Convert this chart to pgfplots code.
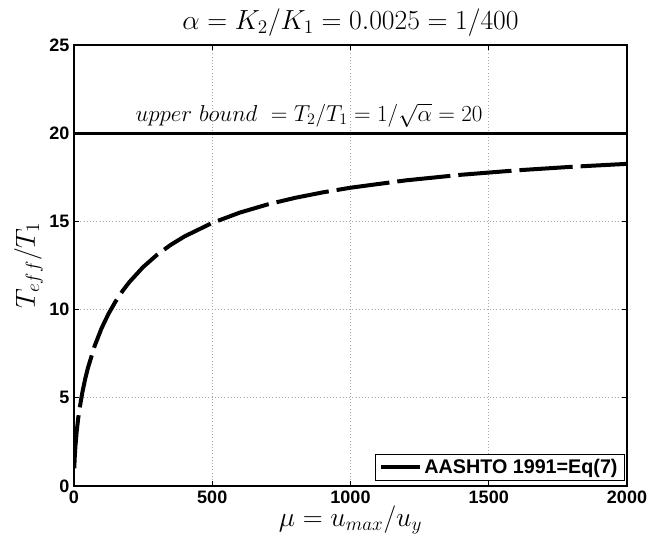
\documentclass[border=0pt]{standalone}
\usepackage{pgfplots}
\pgfplotsset{compat=1.18}
\usepackage{fontspec}
\newfontfamily\arialfont{Liberation Sans}
\begin{document}
\begin{tikzpicture}
\begin{axis}[
  scale only axis,
  width=414.75pt, height=330.75pt,
  xmin=0, xmax=2000, ymin=0, ymax=25,
  xtick={0,500,...,2000}, ytick={0,5,...,25},
  tick align=inside,
  major tick length=4pt,
  tick style={black, line width=0.5pt},
  axis line style={line width=0.8pt},
  grid=major,
  major grid style={gray!70, dotted, line width=0.5pt},
  /pgf/number format/assume math mode=true,
  /pgf/number format/set thousands separator={},
  ticklabel style={font=\fontsize{13.5}{15}\selectfont\arialfont\bfseries},
  title={$\alpha = K_2/K_1 = 0.0025 = 1/400$},
  title style={font=\fontsize{20.5}{22}\selectfont, yshift=-3pt},
  xlabel={$\mu = u_{max}/u_y$},
  xlabel style={font=\fontsize{20.5}{22}\selectfont, yshift=5pt},
  ylabel={$T_{eff}/T_1$},
  ylabel style={font=\fontsize{20.5}{22}\selectfont, yshift=-2pt},
  legend style={at={(rel axis cs:0.996,0.012)}, anchor=south east,
    font=\fontsize{14.8}{16}\selectfont\arialfont\bfseries,
    draw=black, line width=0.8pt, inner xsep=3pt, inner ysep=1.5pt},
  legend cell align=left,
  legend image code/.code={\draw[black, solid, line width=3pt] (0cm,0cm) -- (29pt,0cm);},
]
\coordinate (BL) at (rel axis cs:0,0);
\coordinate (TR) at (rel axis cs:1,1);
\addplot[black, line width=3pt, dash pattern=on 40pt off 6pt] coordinates {
(1,1.000) (2,1.4125) (3,1.728) (5,2.225) (10,3.127) (15,3.807) (20,4.370)
(30,5.289) (40,6.037) (50,6.674) (75,7.956) (100,8.953) (125,9.768)
(150,10.454) (175,11.043) (200,11.557) (250,12.413) (300,13.102)
(350,13.672) (400,14.151) (500,14.915) (600,15.500) (700,15.962)
(800,16.337) (900,16.646) (1000,16.909) (1200,17.326) (1400,17.643)
(1600,17.893) (1800,18.095) (2000,18.262)
};
\addlegendentry{AASHTO 1991=Eq(7)}
\addplot[black, line width=2.2pt, forget plot] coordinates {(0,20) (2000,20)};
\node[anchor=south, font=\fontsize{17}{19}\selectfont, inner sep=1pt] at (axis cs:850,20.25)
  {$upper\ bound\ = T_2/T_1 = 1/\sqrt{\alpha} = 20$};
\end{axis}
\pgfresetboundingbox
\path[use as bounding box] ([xshift=-55.5pt,yshift=-42pt]BL) rectangle ([xshift=31.5pt,yshift=33.75pt]TR);
\end{tikzpicture}
\end{document}
